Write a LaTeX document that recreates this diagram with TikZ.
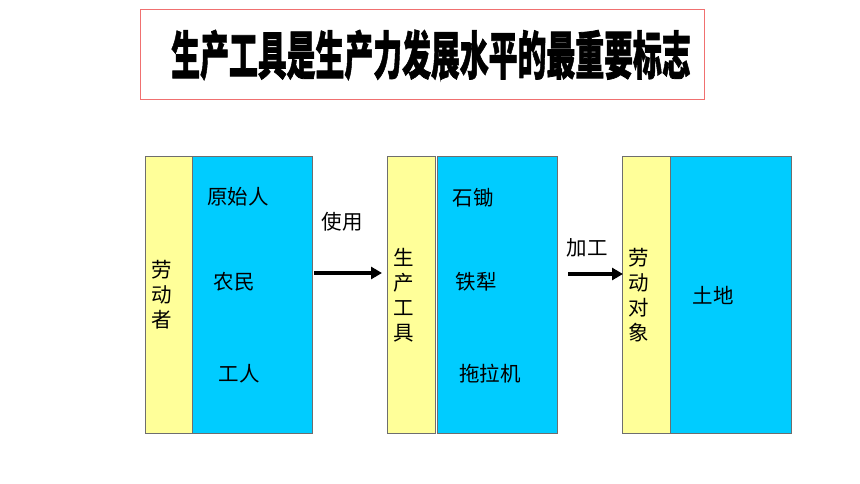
\documentclass[tikz,border=0pt]{standalone}
\usepackage{fontspec}
\usetikzlibrary{arrows.meta}
\newfontfamily\cjk{Noto Sans CJK SC}
\newfontfamily\cjkt[BoldFeatures={FakeBold=1.5}]{Noto Sans CJK SC}
\definecolor{ylw}{HTML}{FFFF99}
\definecolor{sky}{HTML}{00CCFF}
\definecolor{frame}{HTML}{F07070}
\definecolor{edge}{HTML}{6E6E6E}
\begin{document}
\begin{tikzpicture}[x=1pt,y=-1pt,
  panel/.style={draw=edge,line width=0.6pt,anchor=north west,inner sep=0pt,minimum height=277pt},
  ypanel/.style={panel,fill=ylw,minimum width=47pt},
  bpanel/.style={panel,fill=sky,minimum width=120pt},
  lbl/.style={font=\cjk\fontsize{20.5}{24}\selectfont,inner sep=0pt},
  vlbl/.style={font=\cjk\fontsize{20.5}{25}\selectfont,inner sep=0pt,align=center},
  arr/.style={-{Triangle[length=11pt,width=12pt]},line width=3.5pt,black}]
\useasboundingbox (0,0) rectangle (860,484);
\fill[white] (0,0) rectangle (860,484);
% title
\node[draw=frame,line width=0.6pt,anchor=north west,minimum width=564pt,minimum height=90pt,inner sep=0pt] (tbox) at (140,9) {};
\node[inner sep=0pt,xscale=0.555,font=\cjkt\bfseries\fontsize{52}{52}\selectfont] (title) at (431,55) {生产工具是生产力发展水平的最重要标志};
% panel 1
\node[ypanel] (y1) at (145,156) {};
\node[bpanel,minimum width=120pt] (b1) at (192,156) {};
\node[vlbl] (v1) at (162,295) {劳\\动\\者};
\node[lbl] (a1) at (238,197) {原始人};
\node[lbl] (a2) at (234,282) {农民};
\node[lbl] (a3) at (239,374) {工人};
% panel 2
\node[ypanel,minimum width=48pt] (y2) at (387,156) {};
\node[bpanel] (b2) at (437,156) {};
\node[vlbl] (v2) at (404,295) {生\\产\\工\\具};
\node[lbl] (c1) at (473,198) {石锄};
\node[lbl] (c2) at (476,282) {铁犁};
\node[lbl] (c3) at (490,374) {拖拉机};
% panel 3
\node[ypanel,minimum width=48pt] (y3) at (622,156) {};
\node[bpanel,minimum width=121pt] (b3) at (670,156) {};
\node[vlbl] (v3) at (639,295) {劳\\动\\对\\象};
\node[lbl] (d1) at (713,295) {土地};
% arrows
\coordinate (p1s) at (314,273);
\coordinate (p1e) at (382,273);
\coordinate (p2s) at (568,274);
\coordinate (p2e) at (623,274);
\draw[arr] (p1s) -- (p1e);
\draw[arr] (p2s) -- (p2e);
\node[lbl] (u1) at (342,222) {使用};
\node[lbl] (u2) at (587,248) {加工};
\end{tikzpicture}
\end{document}
